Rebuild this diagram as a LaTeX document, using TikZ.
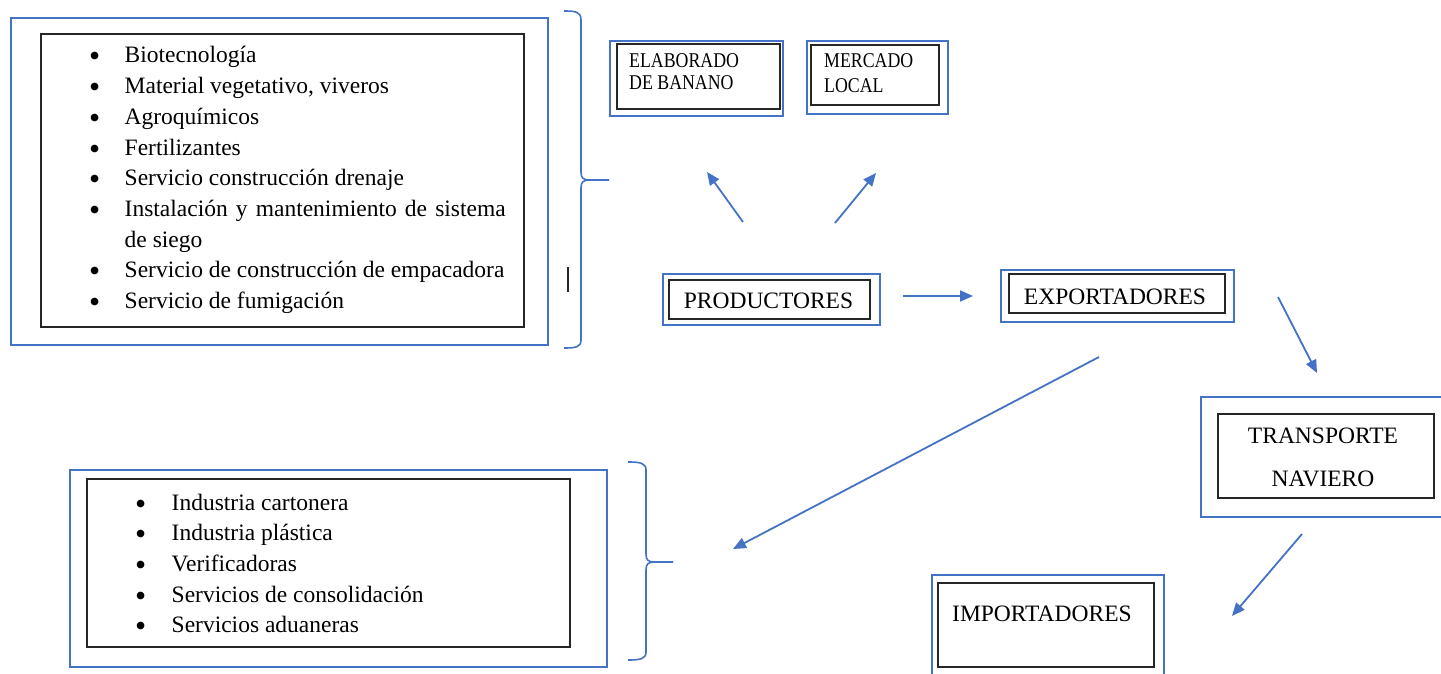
\documentclass[tikz,border=0pt]{standalone}
\usepackage{fontspec}
\usepackage{graphicx}
\setmainfont{Liberation Serif}
\usetikzlibrary{arrows.meta}
\definecolor{wordblue}{HTML}{4472C4}
\definecolor{boxblack}{HTML}{262626}
\tikzset{
  outerbox/.style={draw=wordblue, line width=1.6pt, inner sep=0pt, anchor=north west},
  innerbox/.style={draw=boxblack, line width=1.9pt, inner sep=0pt, anchor=north west},
  lbl/.style={inner sep=0pt, font=\fontsize{23.5}{30.7}\selectfont},
  smalllbl/.style={inner sep=0pt, anchor=base west, font=\fontsize{17.8}{23}\selectfont},
  flow/.style={draw=wordblue, line width=1.8pt, -{Triangle[length=13pt,width=11pt]}},
  bracepath/.style={draw=wordblue, line width=1.6pt}
}
\newcommand{\bul}[1]{\hbox to #1{\raisebox{-4pt}{\scalebox{1.35}{\textbullet}}\hfil}}
\newcommand{\tallcap}[1]{\scalebox{1}[1.18]{#1}}
\begin{document}
\begin{tikzpicture}[x=1pt,y=-1pt]
\useasboundingbox (0,0) rectangle (1441,674);

% ---------- top-left list ----------
\node[outerbox, minimum width=537pt, minimum height=327pt] (sup1) at (10,17) {};
\node[innerbox, minimum width=483pt, minimum height=293pt] (sup1in) at (40,33) {};
\node[lbl, anchor=base west] (list1) at (89,63) {%
\begin{tabular}[t]{@{}l@{}l@{}}
\bul{35.5pt} & Biotecnología\\
\bul{35.5pt} & Material vegetativo, viveros\\
\bul{35.5pt} & Agroquímicos\\
\bul{35.5pt} & Fertilizantes\\
\bul{35.5pt} & Servicio construcción drenaje\\
\bul{35.5pt} & \makebox[381pt][s]{Instalación y mantenimiento de sistema}\\
 & de siego\\
\bul{35.5pt} & Servicio de construcción de empacadora\\
\bul{35.5pt} & Servicio de fumigación
\end{tabular}};

% brace 1
\coordinate (br1tip) at (609,180);
\draw[bracepath] (564,11) .. controls (576,11) and (581,12) .. (581,20) -- (581,172)
  .. controls (581,178) and (583,180) .. (590,180) -- (br1tip);
\draw[bracepath] (590,180) .. controls (583,180) and (581,182) .. (581,188) -- (581,340)
  .. controls (581,347) and (576,348) .. (564,348);
\coordinate (mark1) at (568,267);
\coordinate (mark2) at (568,292);
\draw[boxblack, line width=1.5pt] (mark1) -- (mark2);

% ---------- ELABORADO / MERCADO ----------
\node[outerbox, minimum width=173pt, minimum height=75pt] (elab) at (609,40) {};
\node[innerbox, minimum width=163pt, minimum height=65pt] (elabin) at (616,43) {};
\node[smalllbl] (elabt1) at (629,68) {\tallcap{ELABORADO}};
\node[smalllbl] (elabt2) at (629,90) {\tallcap{DE BANANO}};

\node[outerbox, minimum width=141pt, minimum height=73pt] (merc) at (806,40) {};
\node[innerbox, minimum width=128pt, minimum height=60pt] (mercin) at (810,44) {};
\node[smalllbl] (merct1) at (824,68) {\tallcap{MERCADO}};
\node[smalllbl] (merct2) at (824,93) {\tallcap{LOCAL}};

% ---------- PRODUCTORES ----------
\node[outerbox, minimum width=217pt, minimum height=51pt] (prod) at (662,273) {};
\node[innerbox, minimum width=201pt, minimum height=39pt] (prodin) at (668,279) {};
\node[lbl, anchor=base] (prodt) at (768.5,308) {PRODUCTORES};

% ---------- EXPORTADORES ----------
\node[outerbox, minimum width=233pt, minimum height=52pt] (expo) at (1000,269) {};
\node[innerbox, minimum width=216pt, minimum height=39pt] (expoin) at (1008,273) {};
\node[lbl, anchor=base] (expot) at (1115,304) {EXPORTADORES};

% ---------- TRANSPORTE NAVIERO ----------
\node[outerbox, minimum width=242pt, minimum height=120pt] (trans) at (1200,396) {};
\node[innerbox, minimum width=216pt, minimum height=84pt] (transin) at (1217,413) {};
\node[lbl, anchor=base] (transt1) at (1323,443) {TRANSPORTE};
\node[lbl, anchor=base] (transt2) at (1323,486) {NAVIERO};

% ---------- IMPORTADORES ----------
\node[outerbox, minimum width=232pt, minimum height=110pt] (impo) at (931,574) {};
\node[innerbox, minimum width=216pt, minimum height=84pt] (impoin) at (937,582) {};
\node[lbl, anchor=base west] (impot) at (952,621) {IMPORTADORES};

% ---------- bottom-left list ----------
\node[outerbox, minimum width=537pt, minimum height=197pt] (sup2) at (69,469) {};
\node[innerbox, minimum width=483pt, minimum height=168pt] (sup2in) at (86,478) {};
\node[lbl, anchor=base west] (list2) at (135,510) {%
\begin{tabular}[t]{@{}l@{}l@{}}
\bul{36.5pt} & Industria cartonera\\
\bul{36.5pt} & Industria plástica\\
\bul{36.5pt} & Verificadoras\\
\bul{36.5pt} & Servicios de consolidación\\
\bul{36.5pt} & Servicios aduaneras
\end{tabular}};

% brace 2
\coordinate (br2tip) at (673,562);
\draw[bracepath] (628,462) .. controls (640,462) and (646,463) .. (646,470) -- (646,554)
  .. controls (646,560) and (648,562) .. (655,562) -- (br2tip);
\draw[bracepath] (655,562) .. controls (648,562) and (646,564) .. (646,570) -- (646,652)
  .. controls (646,659) and (640,660) .. (628,660);

% ---------- arrows ----------
\coordinate (a1s) at (743,222); \coordinate (a1e) at (707,172);
\coordinate (a2s) at (835,223); \coordinate (a2e) at (876,173);
\coordinate (a3s) at (903,296); \coordinate (a3e) at (973,296);
\coordinate (a4s) at (1278,297); \coordinate (a4e) at (1317,373);
\coordinate (a5s) at (1099,357); \coordinate (a5e) at (733,549);
\coordinate (a6s) at (1302,534); \coordinate (a6e) at (1232,616);
\draw[flow] (a1s) -- (a1e);
\draw[flow] (a2s) -- (a2e);
\draw[flow] (a3s) -- (a3e);
\draw[flow] (a4s) -- (a4e);
\draw[flow] (a5s) -- (a5e);
\draw[flow] (a6s) -- (a6e);
\end{tikzpicture}
\end{document}
